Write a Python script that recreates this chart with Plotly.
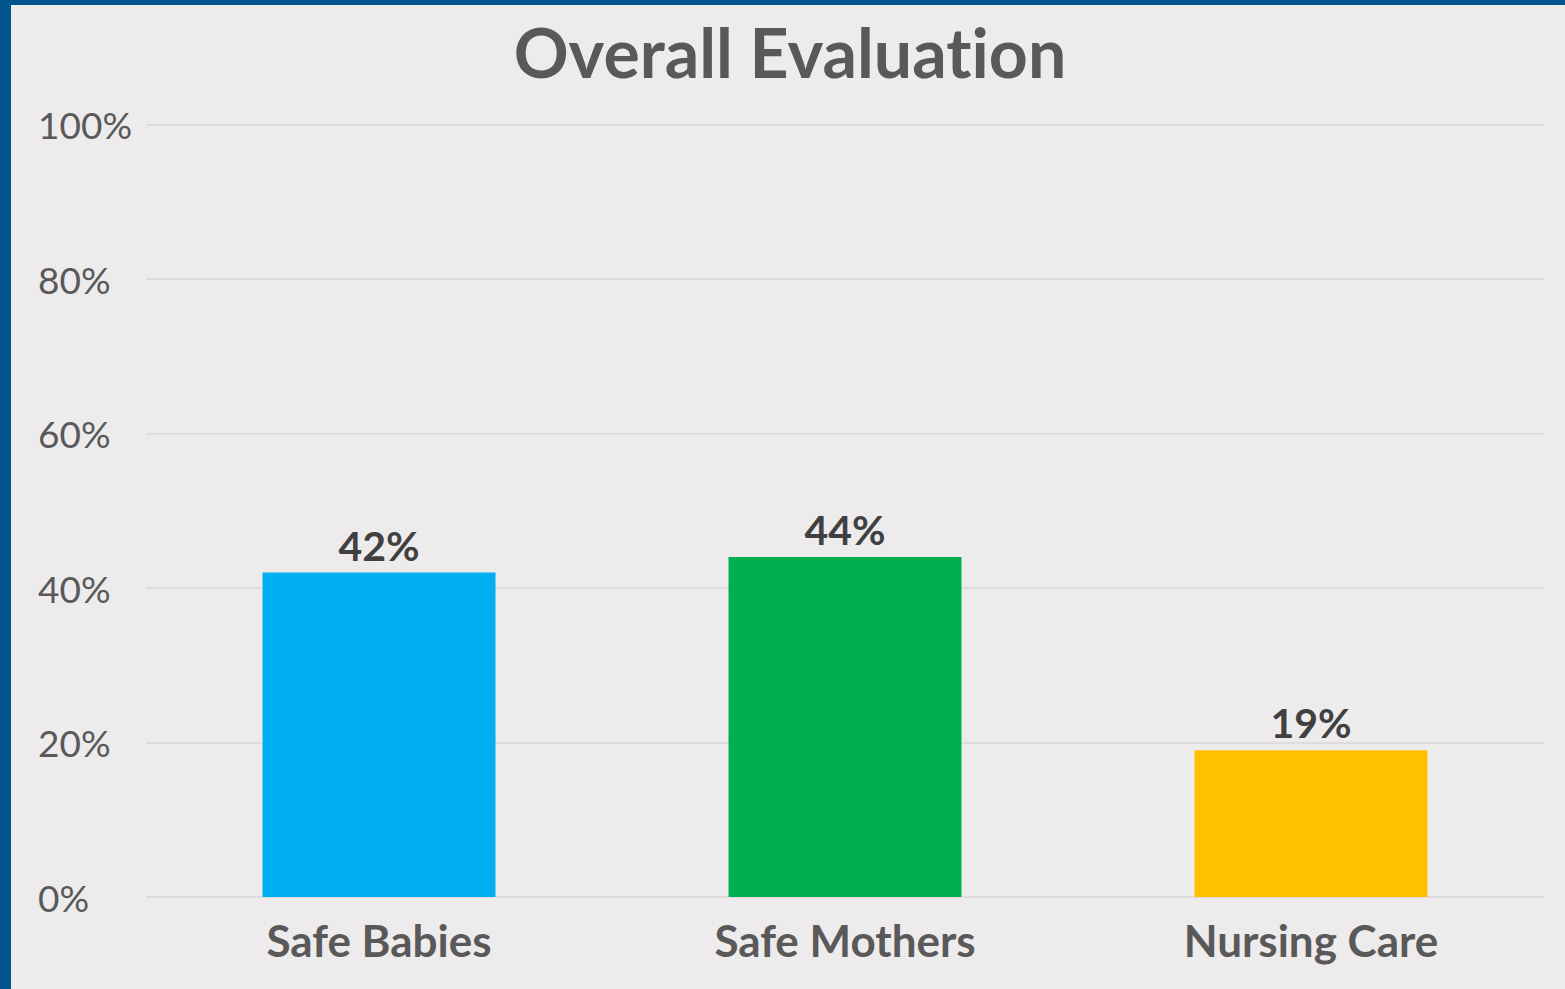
import plotly.graph_objects as go

categories = ["Safe Babies", "Safe Mothers", "Nursing Care"]
values = [42, 44, 19]
labels = ["42%", "44%", "19%"]
bar_colors = ["#00B0F0", "#00B050", "#FFC000"]
tick_vals = [0, 20, 40, 60, 80, 100]
tick_text = ["0%", "20%", "40%", "60%", "80%", "100%"]

W, H = 1565, 989
ML, MR, MT, MB = 146, 21, 123, 92
PW, PH = W - ML - MR, H - MT - MB
BG = "#EDEBEC"
BLUE = "#00558F"
FONT = "Lato"

fig = go.Figure()
fig.add_trace(go.Bar(
    x=categories, y=values, marker=dict(color=bar_colors, line=dict(width=0)),
    width=0.5, text=labels, textposition="outside", cliponaxis=False,
    textfont=dict(family=FONT, size=41, color="#404040", weight="bold"),
    hoverinfo="skip",
))

# gray card inside the blue frame (left and top edges)
fig.add_shape(type="rect", xref="paper", yref="paper", layer="below",
              x0=(11 - ML) / PW, x1=(W - ML) / PW + 0.01,
              y0=(H - MB - H) / PH - 0.01, y1=(H - MB - 5) / PH,
              fillcolor=BG, line=dict(width=0))

# left-aligned y tick labels
for v, t in zip(tick_vals, tick_text):
    fig.add_annotation(x=(36 - ML) / PW, xref="paper", y=v, yref="y",
                       text=t, showarrow=False, xanchor="left", yanchor="middle",
                       font=dict(family=FONT, size=37, color="#595959"))

fig.update_layout(
    width=W, height=H,
    margin=dict(l=ML, r=MR, t=MT, b=MB),
    paper_bgcolor=BLUE, plot_bgcolor="rgba(0,0,0,0)",
    showlegend=False,
    title=dict(text="<b>Overall Evaluat\u200cion</b>", x=790 / W, xanchor="center",
               y=1 - 54 / H, yanchor="middle",
               font=dict(family=FONT, size=68, color="#595959")),
    xaxis=dict(showgrid=False, showline=False, ticks="", ticklabelstandoff=15,
               tickfont=dict(family=FONT, size=44, color="#595959", weight="bold")),
    yaxis=dict(range=[0, 100.2], tickvals=tick_vals, showticklabels=False,
               showgrid=True, gridcolor="#DEDCDD", gridwidth=2,
               zeroline=True, zerolinecolor="#DEDCDD", zerolinewidth=2, ticks=""),
    bargap=0.5,
)

fig.write_html("out.html", config={"displayModeBar": False},
               post_script="document.body.style.margin='0';document.body.style.padding='0';")
